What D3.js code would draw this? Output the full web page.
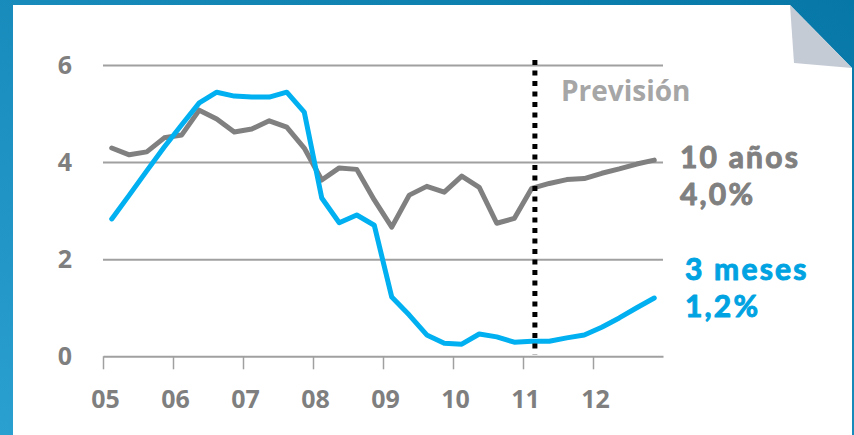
<!DOCTYPE html>
<html>
<head>
<meta charset="utf-8">
<script src="https://cdn.jsdelivr.net/npm/d3@7"></script>
<style>
  html, body { margin: 0; padding: 0; overflow: hidden; }
  svg { display: block; font-family: "Open Sans", sans-serif; font-weight: bold; }
</style>
</head>
<body>
<svg id="chart"></svg>
<script>
const width = 854;
const height = 435;

// quarterly data, 2005Q1 .. 2012Q4
const startYear = 2005;
const yearLabels = ["05", "06", "07", "08", "09", "10", "11", "12"];
const yTicks = [0, 2, 4, 6];
const tenYear = [
  4.29, 4.15, 4.21, 4.50,
  4.56, 5.07, 4.89, 4.62,
  4.68, 4.85, 4.72, 4.29,
  3.63, 3.88, 3.85, 3.22,
  2.66, 3.32, 3.50, 3.38,
  3.71, 3.48, 2.74, 2.84,
  3.46, 3.56, 3.64, 3.66,
  3.77, 3.86, 3.96, 4.04
];
const threeMonth = [
  2.83, 3.32, 3.82, 4.31,
  4.77, 5.22, 5.44, 5.36,
  5.34, 5.34, 5.44, 5.03,
  3.26, 2.75, 2.91, 2.70,
  1.22, 0.85, 0.44, 0.27,
  0.25, 0.46, 0.40, 0.29,
  0.31, 0.31, 0.38, 0.44,
  0.60, 0.79, 1.00, 1.20
];
const forecastStart = 2011.17;
const forecastLabel = "Previsión";
const seriesNames = ["10 años", "3 meses"];
const seriesValues = ["4,0%", "1,2%"];

const margin = {top: 65, left: 103, right: 191, bottom: 79};
const x = d3.scaleLinear([startYear, startYear + 8], [margin.left, width - margin.right]);
const y = d3.scaleLinear([0, 6], [height - margin.bottom + 0.3, margin.top]);
const quarterX = i => x(startYear + 0.125 + 0.25 * i);

const svg = d3.select('#chart').attr('width', width).attr('height', height);

// background
const defs = svg.append('defs');
const grad = defs.append('linearGradient').attr('id', 'bg')
    .attr('x1', 0).attr('y1', 1).attr('x2', 1).attr('y2', 0);
grad.append('stop').attr('offset', 0).attr('stop-color', '#2aa0d0');
grad.append('stop').attr('offset', 1).attr('stop-color', '#0677a7');
svg.append('rect').attr('width', width).attr('height', height).attr('fill', 'url(#bg)');

// paper with folded corner
svg.append('path')
    .attr('d', 'M13,5 L790,5 L852,68 L852,435 L13,435 Z')
    .attr('fill', '#ffffff');
svg.append('path')
    .attr('d', 'M790,5 L794,63 L852,68 Z')
    .attr('fill', '#c5cbd5');

// gridlines + y labels
const yAxis = svg.append('g').attr('transform', `translate(${margin.left},0)`)
    .call(d3.axisLeft(y).tickValues(yTicks.filter(d => d > 0))
      .tickSize(-(x.range()[1] - x.range()[0])).tickPadding(31).tickFormat(d3.format('d')));
yAxis.select('.domain').remove();
yAxis.selectAll('line').attr('stroke', '#a0a0a0').attr('stroke-width', 2);

// zero label
svg.append('text')
    .attr('x', margin.left - 31).attr('y', y(0)).attr('dy', '0.34em')
    .attr('text-anchor', 'end').attr('font-size', 25).attr('fill', '#7f7f7f')
    .text(yTicks[0]);

// x axis
const xAxis = svg.append('g').attr('transform', `translate(0,${y(0)})`)
    .call(d3.axisBottom(x).tickValues(yearLabels.map((d, i) => startYear + i))
      .tickSize(13).tickSizeOuter(0).tickPadding(21)
      .tickFormat((d, i) => yearLabels[i]));
xAxis.select('.domain').attr('stroke', '#a0a0a0').attr('stroke-width', 2);
xAxis.selectAll('line').attr('stroke', '#a0a0a0').attr('stroke-width', 1.5);
xAxis.selectAll('text').attr('dx', 2);

svg.selectAll('.tick text')
    .attr('font-size', 25).attr('font-family', '"Open Sans", sans-serif')
    .attr('font-weight', 'bold').attr('fill', '#7f7f7f');

// series
const line = d3.line().x((d, i) => quarterX(i)).y(d => y(d));
svg.append('path').datum(tenYear)
    .attr('fill', 'none').attr('stroke', '#808080').attr('stroke-width', 5)
    .attr('stroke-linejoin', 'round').attr('stroke-linecap', 'round')
    .attr('d', line);
svg.append('path').datum(threeMonth)
    .attr('fill', 'none').attr('stroke', '#00b0f0').attr('stroke-width', 5)
    .attr('stroke-linejoin', 'round').attr('stroke-linecap', 'round')
    .attr('d', line);

// forecast marker
svg.append('line')
    .attr('x1', x(forecastStart)).attr('x2', x(forecastStart))
    .attr('y1', 60).attr('y2', y(0) - 2)
    .attr('stroke', '#000').attr('stroke-width', 5)
    .attr('stroke-dasharray', '5,5.5');
svg.append('text')
    .attr('x', 561).attr('y', 101)
    .attr('font-size', 28).attr('fill', '#a6a6a6')
    .text(forecastLabel);

// end labels
const labelColors = ['#808080', '#00a3e2'];
const labelX = [680, 685];
const labelY = [168, 280];
seriesNames.forEach((name, i) => {
  const g = svg.append('g')
      .attr('font-family', 'Lato, "Open Sans", sans-serif')
      .attr('font-size', 30).attr('letter-spacing', 2.2)
      .attr('fill', labelColors[i])
      .attr('stroke', labelColors[i]).attr('stroke-width', 1)
      .attr('stroke-linejoin', 'round');
  g.append('text').attr('x', labelX[i]).attr('y', labelY[i]).text(name);
  g.append('text').attr('x', labelX[i]).attr('y', labelY[i] + 37).text(seriesValues[i]);
});
</script>
</body>
</html>
